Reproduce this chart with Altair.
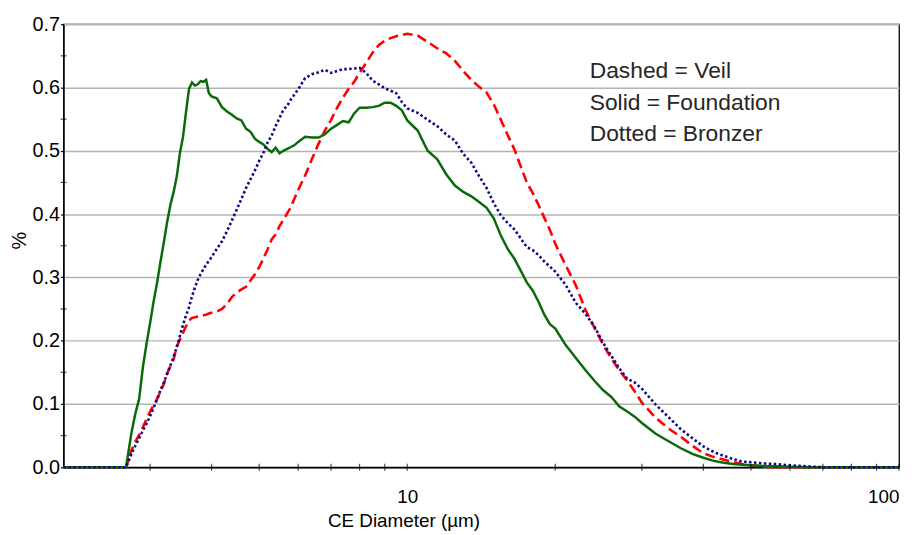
import altair as alt
import pandas as pd

# CE diameter (µm) sample points
diameter = [2.0, 2.68,
            2.75, 2.8, 2.85, 2.9, 2.95, 3.0, 3.05, 3.1, 3.15, 3.2, 3.25, 3.3, 3.35, 3.4, 3.45, 3.5,
            3.55, 3.6, 3.65, 3.7, 3.75, 3.8, 3.85, 3.9, 3.95, 4.0,
            4.1, 4.2, 4.3, 4.4, 4.5, 4.6, 4.7, 4.8, 4.9, 5.0, 5.1, 5.2, 5.3, 5.4, 5.5, 5.6, 5.7, 5.8, 5.9, 6.0,
            6.2, 6.4, 6.6, 6.8, 7.0, 7.2, 7.4, 7.6, 7.8, 8.0,
            8.25, 8.5, 8.75, 9.0, 9.25, 9.5, 9.75, 10,
            10.5, 11, 11.5, 12, 12.5, 13, 13.5, 14, 14.5, 15, 15.5, 16, 16.5, 17, 17.5, 18, 18.5, 19, 19.5, 20,
            21, 22, 23, 24, 25, 26, 27, 28, 29, 30,
            32, 34, 36, 38, 40, 42, 44, 46, 48, 50,
            53, 56, 60, 65, 70, 100]

# Solid = Foundation
foundation = [0, 0,
              0.055, 0.085, 0.108, 0.158, 0.195, 0.228, 0.262, 0.292, 0.325, 0.356, 0.388, 0.415, 0.435, 0.46,
              0.497, 0.522, 0.562, 0.598, 0.608, 0.603, 0.605, 0.610, 0.609, 0.612, 0.591, 0.586,
              0.583, 0.569, 0.562, 0.557, 0.551, 0.548, 0.535, 0.530, 0.519, 0.514, 0.510, 0.503, 0.498, 0.505,
              0.496, 0.500, 0.503, 0.506, 0.509, 0.514,
              0.522, 0.521, 0.521, 0.526, 0.535, 0.541, 0.547, 0.545, 0.559, 0.568,
              0.568, 0.569, 0.571, 0.576, 0.576, 0.571, 0.564, 0.548,
              0.532, 0.500, 0.487, 0.463, 0.445, 0.435, 0.428, 0.419, 0.410, 0.393, 0.366, 0.345, 0.330, 0.311,
              0.292, 0.279, 0.261, 0.241, 0.226, 0.219,
              0.193, 0.173, 0.154, 0.137, 0.122, 0.111, 0.096, 0.088, 0.080, 0.070,
              0.053, 0.041, 0.030, 0.021, 0.015, 0.010, 0.007, 0.005, 0.004, 0.003,
              0.002, 0.0015, 0.001, 0, 0, 0]

# Dotted = Bronzer
bronzer = [0, 0,
           0.021, 0.034, 0.046, 0.058, 0.069, 0.081, 0.094, 0.107, 0.122, 0.134, 0.148, 0.161, 0.175, 0.190,
           0.208, 0.225, 0.240, 0.253, 0.270, 0.284, 0.296, 0.305, 0.313, 0.320, 0.326, 0.332,
           0.345, 0.357, 0.373, 0.390, 0.407, 0.424, 0.441, 0.455, 0.469, 0.484, 0.497, 0.513, 0.524, 0.539,
           0.552, 0.565, 0.571, 0.581, 0.589, 0.597,
           0.615, 0.621, 0.624, 0.628, 0.623, 0.626, 0.629, 0.629, 0.630, 0.631,
           0.623, 0.611, 0.605, 0.599, 0.595, 0.591, 0.577, 0.567,
           0.560, 0.549, 0.539, 0.526, 0.516, 0.495, 0.481, 0.460, 0.441, 0.417, 0.398, 0.386, 0.376, 0.362,
           0.348, 0.343, 0.335, 0.325, 0.317, 0.309,
           0.288, 0.260, 0.243, 0.223, 0.197, 0.176, 0.156, 0.140, 0.134, 0.124,
           0.099, 0.079, 0.060, 0.046, 0.033, 0.024, 0.018, 0.013, 0.009, 0.008,
           0.006, 0.005, 0.003, 0.0015, 0, 0]

# Dashed = Veil
veil = [0, 0,
        0.027, 0.040, 0.051, 0.063, 0.076, 0.088, 0.098, 0.108, 0.120, 0.132, 0.148, 0.160, 0.171, 0.191,
        0.202, 0.212, 0.223, 0.232, 0.236, 0.237, 0.238, 0.239, 0.240, 0.241, 0.243, 0.244,
        0.246, 0.250, 0.258, 0.269, 0.276, 0.281, 0.285, 0.295, 0.305, 0.316, 0.330, 0.344, 0.360, 0.368,
        0.381, 0.391, 0.401, 0.411, 0.425, 0.438,
        0.461, 0.487, 0.511, 0.532, 0.549, 0.568, 0.584, 0.598, 0.609, 0.623,
        0.639, 0.655, 0.667, 0.674, 0.678, 0.681, 0.683, 0.685,
        0.682, 0.672, 0.662, 0.654, 0.642, 0.626, 0.612, 0.601, 0.592, 0.573, 0.549, 0.525, 0.503, 0.476,
        0.450, 0.433, 0.414, 0.394, 0.375, 0.353,
        0.319, 0.288, 0.250, 0.221, 0.194, 0.172, 0.153, 0.137, 0.120, 0.102,
        0.078, 0.061, 0.048, 0.034, 0.022, 0.016, 0.012, 0.008, 0.005, 0.003,
        0.001, 0, 0, 0, 0, 0]

y_ticks = [0.0, 0.1, 0.2, 0.3, 0.4, 0.5, 0.6, 0.7]
y_minor = [0.05, 0.15, 0.25, 0.35, 0.45, 0.55, 0.65]
x_labels = [10, 100]
x_minor = [3, 4, 5, 6, 7, 8, 9, 10, 20, 30, 40, 50, 60, 70, 80, 90, 100]

note_text = ["Dashed = Veil", "Solid = Foundation", "Dotted = Bronzer"]
note_x = [23.5, 23.5, 23.5]
note_y = [0.6145, 0.564, 0.515]

FONT = "Liberation Sans"

xscale = alt.Scale(type="log", domain=[2, 100], nice=False)
yscale = alt.Scale(domain=[0, 0.7], nice=False)

def series_df(vals):
    return pd.DataFrame({"x": diameter, "y": vals})

x_axis = alt.Axis(values=x_labels, format="d", ticks=False, grid=False, labelFlush=True,
                  labelFontSize=19, labelPadding=21, labelColor="black", labelFont=FONT,
                  domainColor="black", domainWidth=1.3,
                  title="CE Diameter (µm)", titleFont=FONT, titleFontSize=19, titleFontWeight="normal",
                  titleColor="black", titleX=343, titleY=60, titleAlign="center", titleBaseline="alphabetic")
y_axis = alt.Axis(values=y_ticks, format=".1f", grid=True, gridColor="#b4b4b4", gridWidth=1.5,
                  tickSize=3, tickColor="black", tickWidth=1.2,
                  labelFontSize=20, labelPadding=1, labelColor="black", labelFont=FONT,
                  domainColor="black", domainWidth=1.3,
                  title="%", titleFont=FONT, titleFontSize=20, titleFontWeight="normal", titleColor="black",
                  titleX=-44, titleY=218, titleAlign="center", titleBaseline="middle", titleAngle=270)

X = alt.X("x:Q", scale=xscale, axis=x_axis)
Y = alt.Y("y:Q", scale=yscale, axis=y_axis)

veil_line = alt.Chart(series_df(veil)).mark_line(
    color="#ff0000", strokeWidth=2.6, strokeDash=[10, 5]
).encode(x=X, y=Y)

foundation_line = alt.Chart(series_df(foundation)).mark_line(
    color="#0a6a0a", strokeWidth=2.5
).encode(x=X, y=Y)

bronzer_line = alt.Chart(series_df(bronzer)).mark_line(
    color="#0a0a8a", strokeWidth=2.6, strokeDash=[2.5, 2.5]
).encode(x=X, y=Y)

xtick_df = pd.DataFrame({"x": x_minor, "y": [0.0] * len(x_minor)})
xticks = alt.Chart(xtick_df).mark_tick(orient="vertical", color="black", thickness=1.2, size=7).encode(x=X, y=Y)

ytick_df = pd.DataFrame({"x": [2.0] * len(y_minor), "y": y_minor})
yticks = alt.Chart(ytick_df).mark_tick(orient="horizontal", color="black", thickness=1.2, size=6).encode(x=X, y=Y)

note_df = pd.DataFrame({"x": note_x, "y": note_y, "t": note_text})
notes = alt.Chart(note_df).mark_text(
    align="left", baseline="alphabetic", font=FONT, fontSize=23, color="#262626"
).encode(x=X, y=Y, text="t:N")

chart = alt.layer(veil_line, foundation_line, bronzer_line, xticks, yticks, notes).properties(
    width=843, height=447,
    autosize=alt.AutoSizeParams(type="none"),
    padding={"left": 56, "top": 14, "right": 5, "bottom": 65},
    background="white",
).configure_view(stroke="black", strokeWidth=1.3)

chart.save("out.html", embed_options={"renderer": "svg", "actions": False})
